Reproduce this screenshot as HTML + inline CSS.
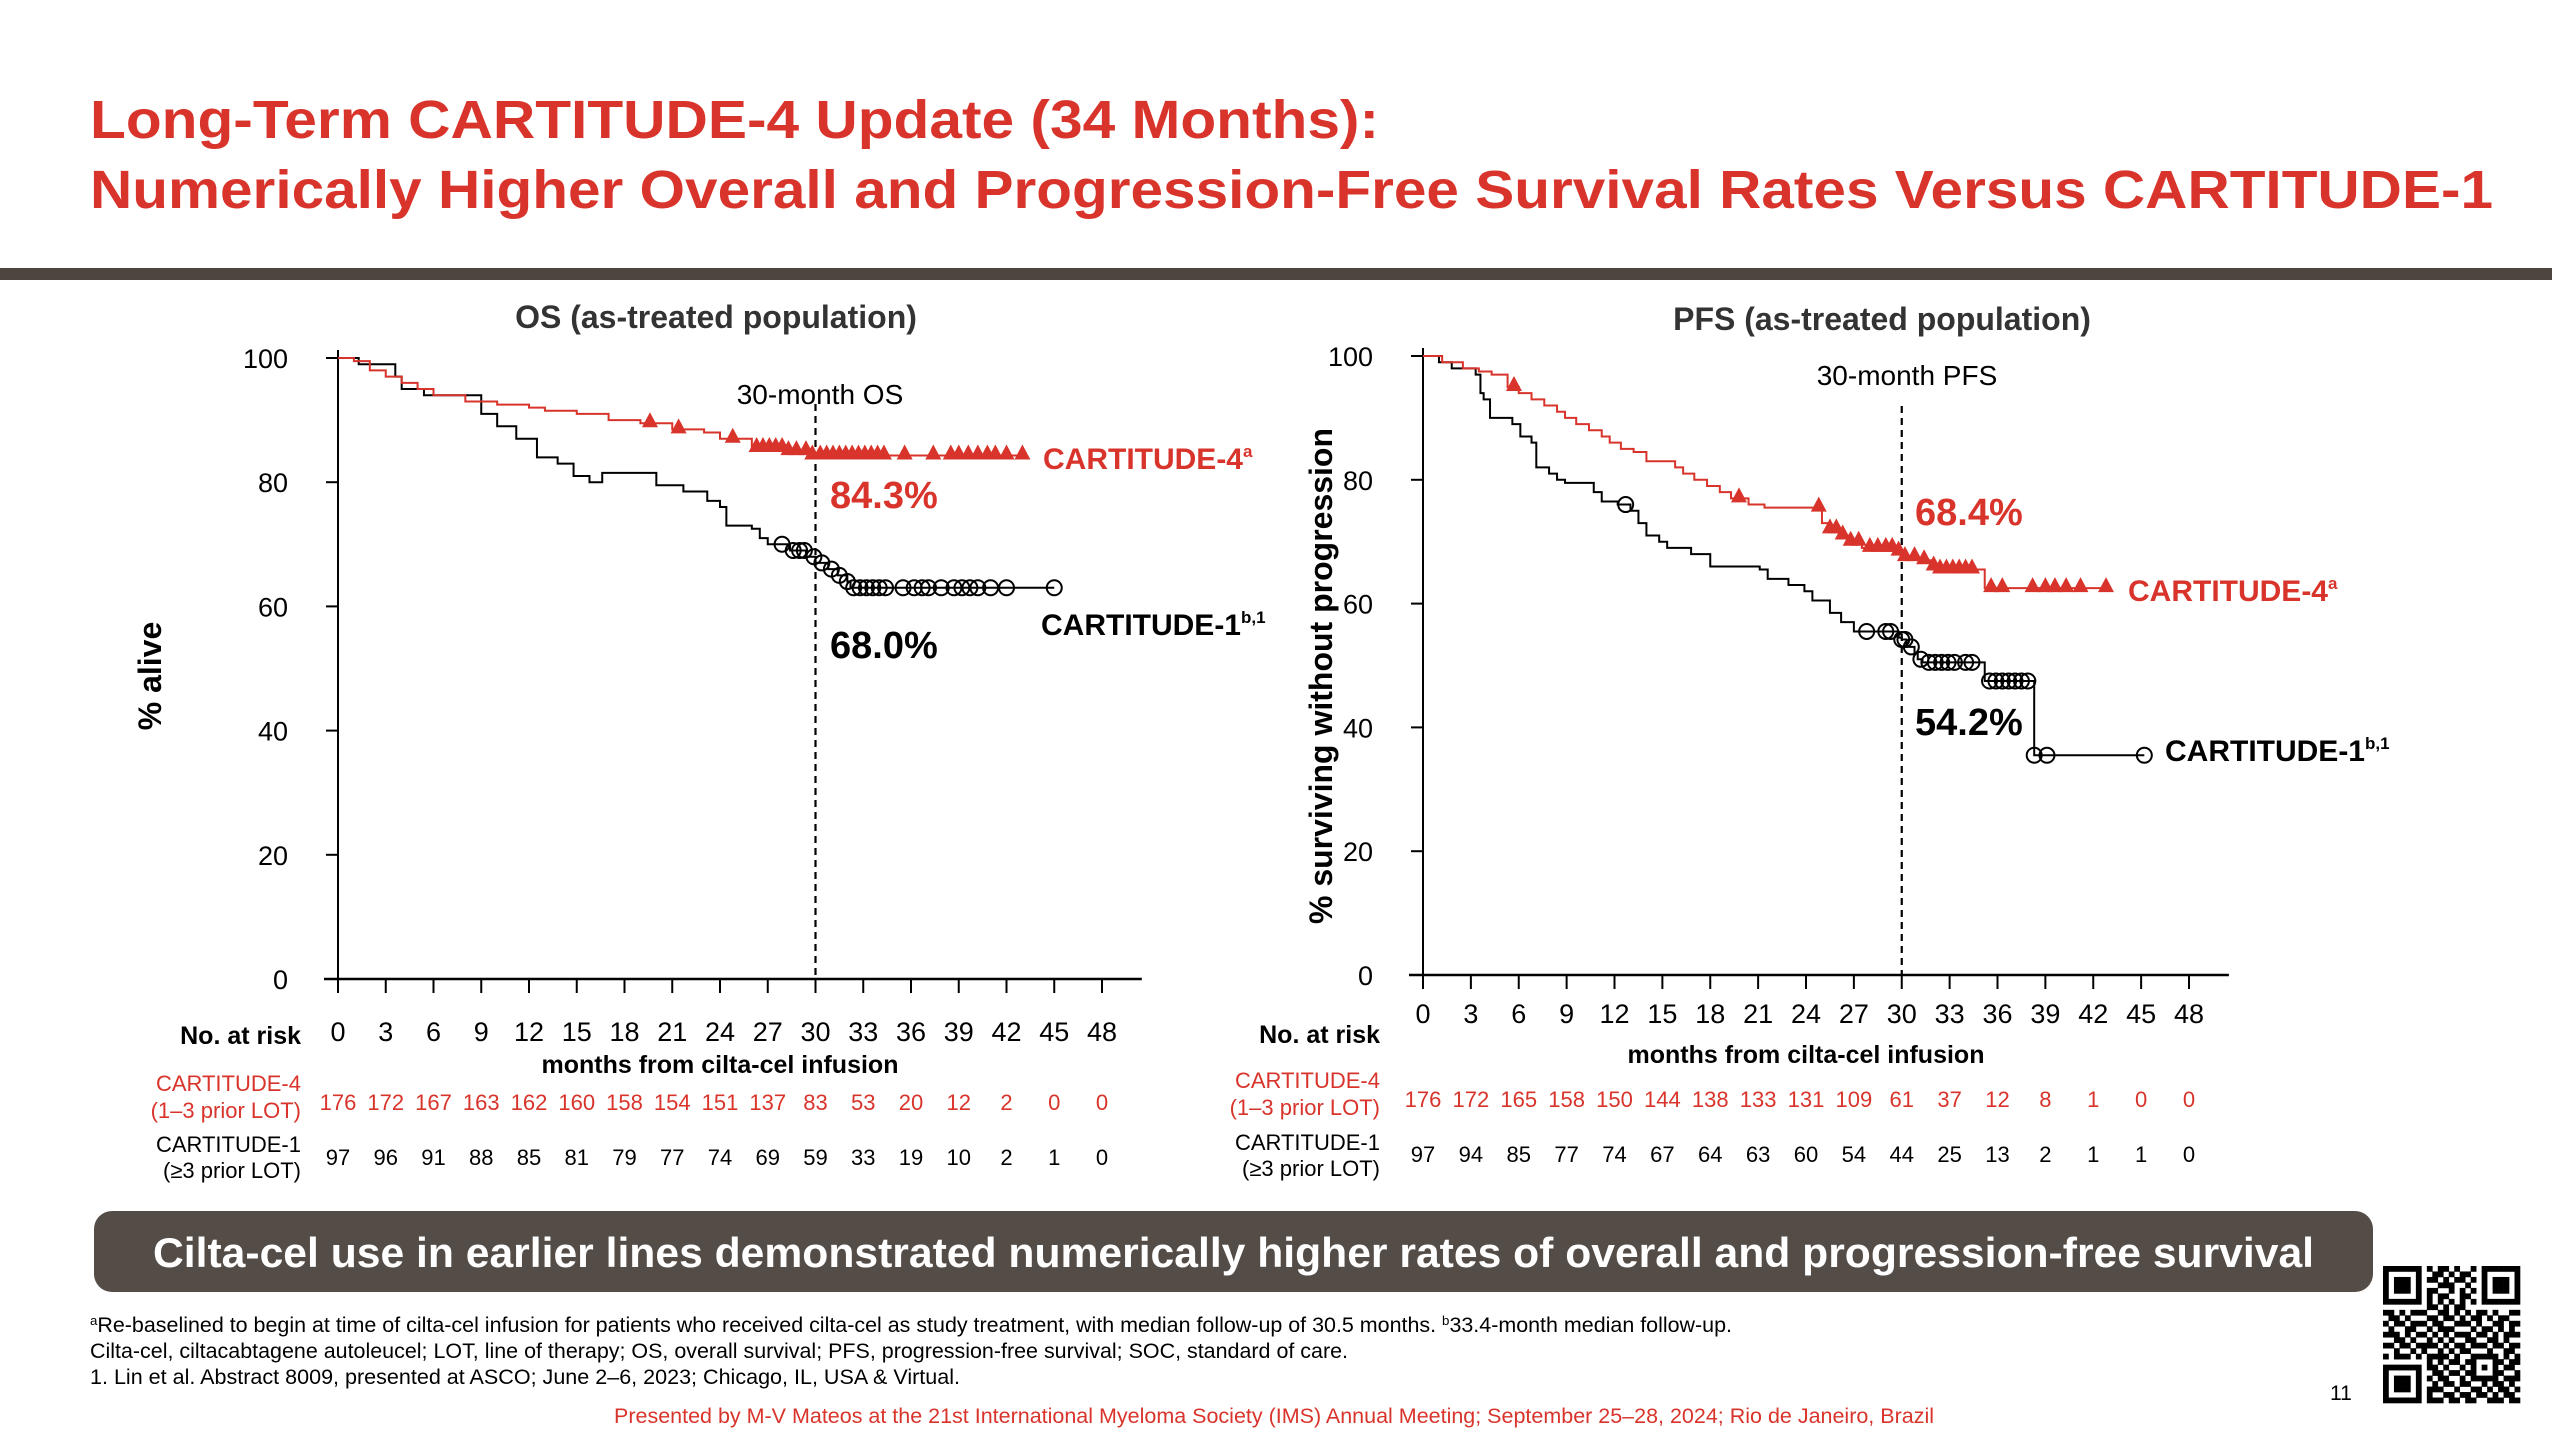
<!DOCTYPE html>
<html><head><meta charset="utf-8"><style>
html,body{margin:0;padding:0;background:#fff}
svg{display:block}
text{font-family:"Liberation Sans Narrow","Liberation Sans",sans-serif}
.b{font-family:"Liberation Sans",sans-serif;font-weight:bold}
</style></head><body>
<svg id="s" width="2552" height="1436" viewBox="0 0 2552 1436" xmlns="http://www.w3.org/2000/svg">
<text class="b" x="90" y="138" font-size="54" fill="#d9342b" textLength="1289" lengthAdjust="spacingAndGlyphs">Long-Term CARTITUDE-4 Update (34 Months):</text>
<text class="b" x="90" y="208" font-size="54" fill="#d9342b" textLength="2403" lengthAdjust="spacingAndGlyphs">Numerically Higher Overall and Progression-Free Survival Rates Versus CARTITUDE-1</text>
<rect x="0" y="268" width="2552" height="12" fill="#4d4640"/>
<g id="os"></g>
<g id="pfs"></g>
<rect x="94" y="1211" width="2279" height="81" rx="18" fill="#544c47"/>
<text class="b" x="153" y="1267" font-size="42" fill="#fff" textLength="2161" lengthAdjust="spacingAndGlyphs">Cilta-cel use in earlier lines demonstrated numerically higher rates of overall and progression-free survival</text>
<text x="90" y="1332" font-size="21" fill="#000" textLength="1642" lengthAdjust="spacingAndGlyphs"><tspan font-size="13" dy="-7">a</tspan><tspan dy="7">Re-baselined to begin at time of cilta-cel infusion for patients who received cilta-cel as study treatment, with median follow-up of 30.5 months. </tspan><tspan font-size="13" dy="-7">b</tspan><tspan dy="7">33.4-month median follow-up.</tspan></text>
<text x="90" y="1358" font-size="21" fill="#000" textLength="1258" lengthAdjust="spacingAndGlyphs">Cilta-cel, ciltacabtagene autoleucel; LOT, line of therapy; OS, overall survival; PFS, progression-free survival; SOC, standard of care.</text>
<text x="90" y="1384" font-size="21" fill="#000" textLength="870" lengthAdjust="spacingAndGlyphs">1. Lin et al. Abstract 8009, presented at ASCO; June 2–6, 2023; Chicago, IL, USA &amp; Virtual.</text>
<text x="614" y="1423" font-size="21" fill="#d9342b" textLength="1320" lengthAdjust="spacingAndGlyphs">Presented by M-V Mateos at the 21st International Myeloma Society (IMS) Annual Meeting; September 25–28, 2024; Rio de Janeiro, Brazil</text>
<text x="2330" y="1400" font-size="21" fill="#000">11</text>
<g id="qr"></g>
</svg>
<script>
const NS="http://www.w3.org/2000/svg";
const RED="#d9342b";
const xTicks=[0,3,6,9,12,15,18,21,24,27,30,33,36,39,42,45,48];
const yTicks=[0,20,40,60,80,100];
const osC4Times=[0,1,2,3,4,5,6,8,10,12,13,15,17,19,21,23,24,26,28,29.5];
const osC4Vals=[100,99.5,98,97,96,95,94,93,92.5,92,91.5,91,90,89.5,88.5,88,87,85.5,85,84.3];
const osC4End=43;
const osC4Cens=[19.6,21.4,24.8,26.3,26.7,27.1,27.5,27.9,28.3,28.8,29.4,29.8,30.3,30.7,31.1,31.5,31.9,32.3,32.7,33.1,33.5,33.9,34.3,35.6,37.4,38.5,39,39.6,40.2,40.8,41.3,42,43];
const osC1Times=[0,1.3,3.6,4,5.4,9,10,11.2,12.5,13.8,14.8,15.8,16.6,20,21.7,23.2,24,24.4,26,26.5,27,28.4,29.4,30,30.8,31.4,32,32.2];
const osC1Vals=[100,99,97,95,94,91,89,87,84,83,81,80,81.5,79.5,78.5,77,76,73,72.5,71,70,69,68,67,66,65,64,63];
const osC1End=45;
const osC1Cens=[27.9,28.6,29,29.3,29.9,30.4,31,31.5,32,32.4,32.8,33.2,33.6,34,34.4,35.5,36.2,36.7,37.1,37.9,38.7,39.2,39.7,40.2,41,42,45];
const pfsC4Times=[0,1.2,2.5,3.5,4.3,5.3,6,6.8,7.6,8.4,8.9,9.6,10.4,11.2,11.7,12.4,13.2,14,15.8,16.3,17,17.8,18.6,19.3,20.4,21.4,24.7,25,25.5,26.2,26.7,27.5,29.5,30,31,31.8,32.1,35.2];
const pfsC4Vals=[100,99,98,97.5,97,95,94,93,92,91,90,89,88,87,86,85,84.5,83,82,81,80,79,78,77,76,75.5,75.5,73,72,71,70,69,68.4,67.5,67,66,65.5,62.5];
const pfsC4End=42.8;
const pfsC4Cens=[5.7,19.8,24.8,25.5,25.9,26.3,26.8,27.3,28,28.5,29,29.4,29.8,30.2,30.8,31.4,32,32.4,32.8,33.2,33.6,34,34.4,35.6,36.3,38.2,39,39.6,40.3,41.2,42.8];
const pfsC1Times=[0,1,1.8,3.3,3.6,3.8,4.2,5.6,6.1,6.8,7.1,7.9,8.4,8.9,10.7,11.2,12.2,13,13.5,14,14.8,15.3,16.8,18,21.1,21.6,22.9,23.9,24.4,25.5,26.2,27,29.8,30,30.3,30.8,31,31.3,35.2,38.3];
const pfsC1Vals=[100,99,98,97,94,93,90,89,87,86,82,81,80,79.5,78,76.5,76,75,73,71,70,69,68,66,65.5,64,63,62,60.5,58.5,57,55.5,54.5,54.2,53,52,51,50.5,47.5,35.5];
const pfsC1End=45.2;
const pfsC1Cens=[12.7,27.8,29,29.3,30,30.2,30.6,31.2,31.7,32.1,32.5,32.9,33.3,34,34.4,35.5,35.9,36.3,36.7,37.1,37.5,37.9,38.3,39.1,45.2];
const osRiskC4=[176,172,167,163,162,160,158,154,151,137,83,53,20,12,2,0,0];
const osRiskC1=[97,96,91,88,85,81,79,77,74,69,59,33,19,10,2,1,0];
const pfsRiskC4=[176,172,165,158,150,144,138,133,131,109,61,37,12,8,1,0,0];
const pfsRiskC1=[97,94,85,77,74,67,64,63,60,54,44,25,13,2,1,1,0];

function el(p,tag,a,txt){const e=document.createElementNS(NS,tag);for(const k in a)e.setAttribute(k,a[k]);if(txt!==undefined)e.textContent=txt;p.appendChild(e);return e;}
function valAt(ts,vs,t){let v=vs[0];for(let i=0;i<ts.length;i++){if(ts[i]<=t+1e-9)v=vs[i];}return v;}

function chart(g,cfg){
  const X=m=>cfg.x0+m*(cfg.x48-cfg.x0)/48;
  const Y=v=>cfg.y0-v*(cfg.y0-cfg.y100)/100;
  let e;
  e=el(g,'line',{x1:X(0),y1:Y(0),x2:X(0),y2:Y(100)-8,stroke:'#000','stroke-width':2});
  
  e=el(g,'line',{x1:X(0)-14,y1:Y(0),x2:X(50.5),y2:Y(0),stroke:'#000','stroke-width':2.5});
  
  yTicks.forEach(v=>{
    el(g,'line',{x1:X(0)-12,y1:Y(v),x2:X(0),y2:Y(v),stroke:'#000','stroke-width':2});
    e=el(g,'text',{x:X(0)-50,y:Y(v)+10,'font-size':27,'text-anchor':'end'},String(v));
    
  });
  xTicks.forEach((m,i)=>{
    el(g,'line',{x1:X(m),y1:Y(0),x2:X(m),y2:Y(0)+14,stroke:'#000','stroke-width':2});
    e=el(g,'text',{x:X(m),y:cfg.tickY,'font-size':27,'text-anchor':'middle'},String(m));
    
    e=el(g,'text',{x:X(m),y:cfg.r4Y,'font-size':22,'text-anchor':'middle',fill:RED},String(cfg.r4[i]));
    
    e=el(g,'text',{x:X(m),y:cfg.r1Y,'font-size':22,'text-anchor':'middle'},String(cfg.r1[i]));
    
  });
  e=el(g,'line',{x1:X(30),y1:cfg.dashTop,x2:X(30),y2:Y(0),stroke:'#000','stroke-width':2.2,'stroke-dasharray':'7,5'});
  
  function curve(ts,vs,end,cens,color,kind,name){
    let d='M'+X(ts[0])+','+Y(vs[0]);
    for(let i=1;i<ts.length;i++){d+=' H'+X(ts[i])+' V'+Y(vs[i]);}
    d+=' H'+X(end);
    let p=el(g,'path',{d:d,fill:'none',stroke:color,'stroke-width':2});
    
    cens.forEach(t=>{
      const cx=X(t),cy=Y(valAt(ts,vs,t));
      let m;
      if(kind==='tri'){m=el(g,'path',{d:`M${cx},${cy-11} L${cx+8},${cy+4} L${cx-8},${cy+4} Z`,fill:color});}
      else{m=el(g,'circle',{cx:cx,cy:cy,r:7.5,fill:'none',stroke:'#000','stroke-width':2});}
      
    });
  }
  curve(cfg.c1t,cfg.c1v,cfg.c1e,cfg.c1c,'#000','circ','cartitude-1');
  curve(cfg.c4t,cfg.c4v,cfg.c4e,cfg.c4c,RED,'tri','cartitude-4');
}
function txt(g,x,y,s,size,opts,name){const e=el(g,'text',Object.assign({x:x,y:y,'font-size':size},opts||{}),s);return e;}

const os=document.getElementById('os');
chart(os,{x0:338,x48:1102,y0:979,y100:358,tickY:1041,r4Y:1110,r1Y:1165,dashTop:404,r4:osRiskC4,r1:osRiskC1,
  c4t:osC4Times,c4v:osC4Vals,c4e:osC4End,c4c:osC4Cens,c1t:osC1Times,c1v:osC1Vals,c1e:osC1End,c1c:osC1Cens});
txt(os,716,328,'OS (as-treated population)',32,{'text-anchor':'middle','font-weight':'bold',fill:'#333'},'os-chart-title');
txt(os,820,404,'30-month OS',28,{'text-anchor':'middle'},'os-30-month-label');
txt(os,830,508,'84.3%',38,{'font-weight':'bold',fill:RED},'os-cartitude-4-rate');
txt(os,830,658,'68.0%',38,{'font-weight':'bold'},'os-cartitude-1-rate');
let t=txt(os,1043,469,'CARTITUDE-4',30,{'font-weight':'bold',fill:RED},'os-cartitude-4-label');el(t,'tspan',{'font-size':17,dy:-12},'a');
t=txt(os,1041,635,'CARTITUDE-1',30,{'font-weight':'bold'},'os-cartitude-1-label');el(t,'tspan',{'font-size':17,dy:-12},'b,1');
txt(os,0,0,'% alive',32,{'font-weight':'bold','text-anchor':'middle',transform:'translate(161,676) rotate(-90)'},'os-y-axis-title');
txt(os,301,1044,'No. at risk',25,{'text-anchor':'end','font-weight':'bold'},'os-risk-header');
txt(os,720,1073,'months from cilta-cel infusion',25,{'text-anchor':'middle','font-weight':'bold'},'os-x-axis-title');
txt(os,301,1091,'CARTITUDE-4',22,{'text-anchor':'end',fill:RED},'os-risk-c4-label');
t=txt(os,301,1118,'(1–3 prior LOT)',22,{'text-anchor':'end',fill:RED},'os-risk-c4-sub');
txt(os,301,1152,'CARTITUDE-1',22,{'text-anchor':'end'},'os-risk-c1-label');
txt(os,301,1178,'(≥3 prior LOT)',22,{'text-anchor':'end'},'os-risk-c1-sub');

const pfs=document.getElementById('pfs');
chart(pfs,{x0:1423,x48:2189,y0:975,y100:356,tickY:1023,r4Y:1107,r1Y:1162,dashTop:406,r4:pfsRiskC4,r1:pfsRiskC1,
  c4t:pfsC4Times,c4v:pfsC4Vals,c4e:pfsC4End,c4c:pfsC4Cens,c1t:pfsC1Times,c1v:pfsC1Vals,c1e:pfsC1End,c1c:pfsC1Cens});
txt(pfs,1882,330,'PFS (as-treated population)',32,{'text-anchor':'middle','font-weight':'bold',fill:'#333'},'pfs-chart-title');
txt(pfs,1907,385,'30-month PFS',28,{'text-anchor':'middle'},'pfs-30-month-label');
txt(pfs,1915,525,'68.4%',38,{'font-weight':'bold',fill:RED},'pfs-cartitude-4-rate');
txt(pfs,1915,735,'54.2%',38,{'font-weight':'bold'},'pfs-cartitude-1-rate');
t=txt(pfs,2128,601,'CARTITUDE-4',30,{'font-weight':'bold',fill:RED},'pfs-cartitude-4-label');el(t,'tspan',{'font-size':17,dy:-12},'a');
t=txt(pfs,2165,761,'CARTITUDE-1',30,{'font-weight':'bold'},'pfs-cartitude-1-label');el(t,'tspan',{'font-size':17,dy:-12},'b,1');
txt(pfs,0,0,'% surviving without progression',32,{'font-weight':'bold','text-anchor':'middle',transform:'translate(1332,676) rotate(-90)'},'pfs-y-axis-title');
txt(pfs,1380,1043,'No. at risk',25,{'text-anchor':'end','font-weight':'bold'},'pfs-risk-header');
txt(pfs,1806,1063,'months from cilta-cel infusion',25,{'text-anchor':'middle','font-weight':'bold'},'pfs-x-axis-title');
txt(pfs,1380,1088,'CARTITUDE-4',22,{'text-anchor':'end',fill:RED},'pfs-risk-c4-label');
txt(pfs,1380,1115,'(1–3 prior LOT)',22,{'text-anchor':'end',fill:RED},'pfs-risk-c4-sub');
txt(pfs,1380,1150,'CARTITUDE-1',22,{'text-anchor':'end'},'pfs-risk-c1-label');
txt(pfs,1380,1176,'(≥3 prior LOT)',22,{'text-anchor':'end'},'pfs-risk-c1-sub');

const qr=document.getElementById('qr');
const qx=2383,qy=1266,cell=137/25;
const qrRows=["1111111010110100101111111","1000001001101011001000001","1011101011010110101011101","1011101000111001001011101","1011101011001010101011101","1000001010110011001000001","1111111010101010101111111","0000000011010110000000000","1101011100110101011010011","0110100011011010110101100","1011011101100111010011011","0100110010111000101101010","1110101101010111011010111","0011010010101001100110100","1101101111010110111011011","0010010100101011000100110","1011101011110100111110101","0000000010101101100011011","1111111011010010101010110","1000001001101101100011001","1011101010110010111110111","1011101001011011001011010","1011101011100100110101101","1000001010011011011010110","1111111011101101100111011"];
qrRows.forEach((row,r)=>{for(let c=0;c<25;c++){if(row[c]==='1'){el(qr,'rect',{x:qx+c*cell,y:qy+r*cell,width:cell+0.3,height:cell+0.3,fill:'#000'});}}});
</script>
</body></html>
